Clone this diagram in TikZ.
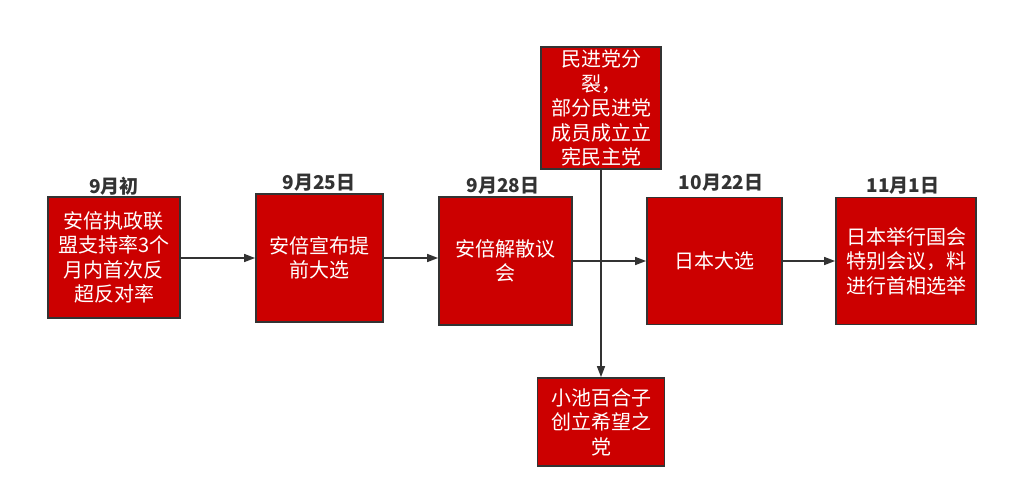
\documentclass[tikz,border=0pt]{standalone}
\usepackage{fontspec}
\newfontfamily\cjk{Noto Sans CJK SC}
\usetikzlibrary{arrows.meta}
\definecolor{boxred}{HTML}{CC0000}
\definecolor{edge}{HTML}{333333}
\tikzset{
  evbox/.style={draw=edge, line width=1.8pt, fill=boxred, text=white, align=center,
    inner sep=0pt, font=\cjk\fontsize{20}{24.5}\selectfont},
  datelbl/.style={text=edge, font=\cjk\bfseries\fontsize{19}{22}\selectfont, inner sep=0pt},
  conn/.style={draw=edge, line width=1.5pt, -{Triangle[length=11pt,width=8pt]}}
}
\begin{document}
\begin{tikzpicture}[x=1pt,y=-1pt]
\useasboundingbox (0,0) rectangle (1015,498);
\fill[white] (0,0) rectangle (1015,498);
\node[evbox, minimum width=132pt, minimum height=121pt] (b1) at (114,257.5) {安倍执政联\\盟支持率3个\\月内首次反\\超反对率};
\node[evbox, minimum width=127pt, minimum height=128pt] (b2) at (319.5,258) {安倍宣布提\\前大选};
\node[evbox, minimum width=133pt, minimum height=128pt] (b3) at (505.5,261) {安倍解散议\\会};
\node[evbox, minimum width=120pt, minimum height=122pt] (top) at (601,108) {民进党分\\裂，\\部分民进党\\成员成立立\\宪民主党};
\node[evbox, minimum width=127pt, minimum height=88pt] (bot) at (601,422) {小池百合子\\创立希望之\\党};
\node[evbox, minimum width=135pt, minimum height=127pt] (b4) at (714.5,261) {日本大选};
\node[evbox, minimum width=140pt, minimum height=127pt] (b5) at (906,261) {日本举行国会\\特别会议，料\\进行首相选举};
\node[datelbl] (d1) at (114,186) {9月初};
\node[datelbl] (d2) at (319,183) {9月25日};
\node[datelbl] (d3) at (503,186) {9月28日};
\node[datelbl] (d4) at (721,183) {10月22日};
\node[datelbl] (d5) at (903,186) {11月1日};
\draw[conn] (b1.east |- 0,258) -- (b2.west |- 0,258);
\draw[conn] (b2.east) -- (b3.west |- b2.east);
\draw[conn] (b3.east) -- (b4.west);
\draw[conn] (b4.east) -- (b5.west);
\draw[conn] (top.south) -- (bot.north);
\end{tikzpicture}
\end{document}
